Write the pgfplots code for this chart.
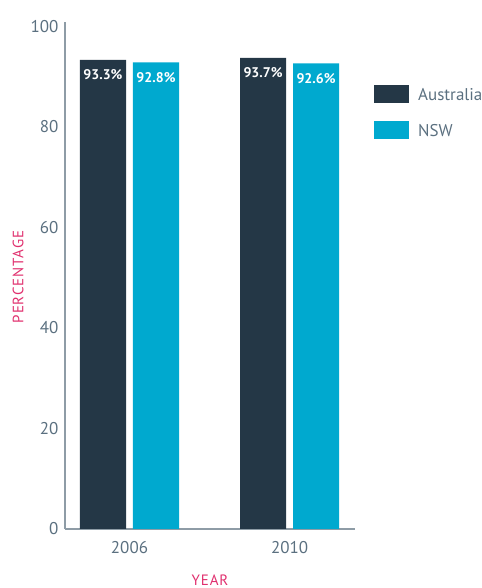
\documentclass[border=0pt]{standalone}
\usepackage{pgfplots}
\pgfplotsset{compat=1.18}
\usepackage{fontspec}
\setmainfont{PT Sans}
\newfontfamily\spaced[LetterSpace=6]{PT Sans}
\definecolor{aus}{HTML}{243746}
\definecolor{nsw}{HTML}{00A9CF}
\definecolor{axisgray}{HTML}{8E9CA6}
\definecolor{ticktext}{HTML}{5B7080}
\definecolor{labpink}{HTML}{E0306E}
\begin{document}
\begin{tikzpicture}[x=1bp,y=1bp]
\useasboundingbox (0,0) rectangle (482,588);
\begin{axis}[
  at={(65bp,59bp)}, anchor=south west,
  scale only axis, width=290bp, height=507bp,
  xmin=-0.403, xmax=1.409, ymin=0, ymax=100.85,
  axis x line*=bottom, axis y line*=left,
  axis line style={axisgray, line width=2bp},
  major tick length=0pt,
  xtick={0,1}, xticklabels={2006,2010},
  ytick={0,20,40,60,80,100},
  tick label style={color=ticktext, font=\fontsize{17bp}{20bp}\selectfont},
  yticklabel style={xshift=-3bp},
  xticklabel style={yshift=-9bp},
  /pgf/number format/assume math mode=true,
  ylabel={PERCENTAGE},
  xlabel={YEAR},
  label style={color=labpink, font=\spaced\fontsize{15bp}{18bp}\selectfont},
  ylabel style={at={(axis description cs:-0.162,0.497)}, anchor=center},
  xlabel style={at={(axis description cs:0.5,-0.1105)}, anchor=base, inner sep=0pt},
  ybar, bar width=0.2875,
  nodes near coords={\pgfmathprintnumber[fixed,fixed zerofill,precision=1]{\pgfplotspointmeta}\%},
  nodes near coords style={anchor=center, yshift=-15bp, color=white, font=\bfseries\fontsize{14bp}{16bp}\selectfont, /pgf/number format/assume math mode=true},
  legend image code/.code={\fill[#1] (0bp,-9bp) rectangle (35bp,9bp);},
  legend cell align=left,
  legend style={at={(axis description cs:1.0655,0.8757)}, anchor=north west, draw=none, fill=none, inner sep=0pt,
    row sep=18bp,
    nodes={inner sep=0pt, text height=15bp, text depth=3bp, text=ticktext, font=\fontsize{17bp}{20bp}\selectfont},
    /tikz/every odd column/.append style={column sep=9bp}},
]
\addplot[fill=aus, draw=none, bar shift=-0.1656] coordinates {(0,93.3) (1,93.7)};
\addlegendentry{Australia}
\addplot[fill=nsw, draw=none, bar shift=0.1656] coordinates {(0,92.8) (1,92.6)};
\addlegendentry{NSW}
\end{axis}
\end{tikzpicture}
\end{document}
